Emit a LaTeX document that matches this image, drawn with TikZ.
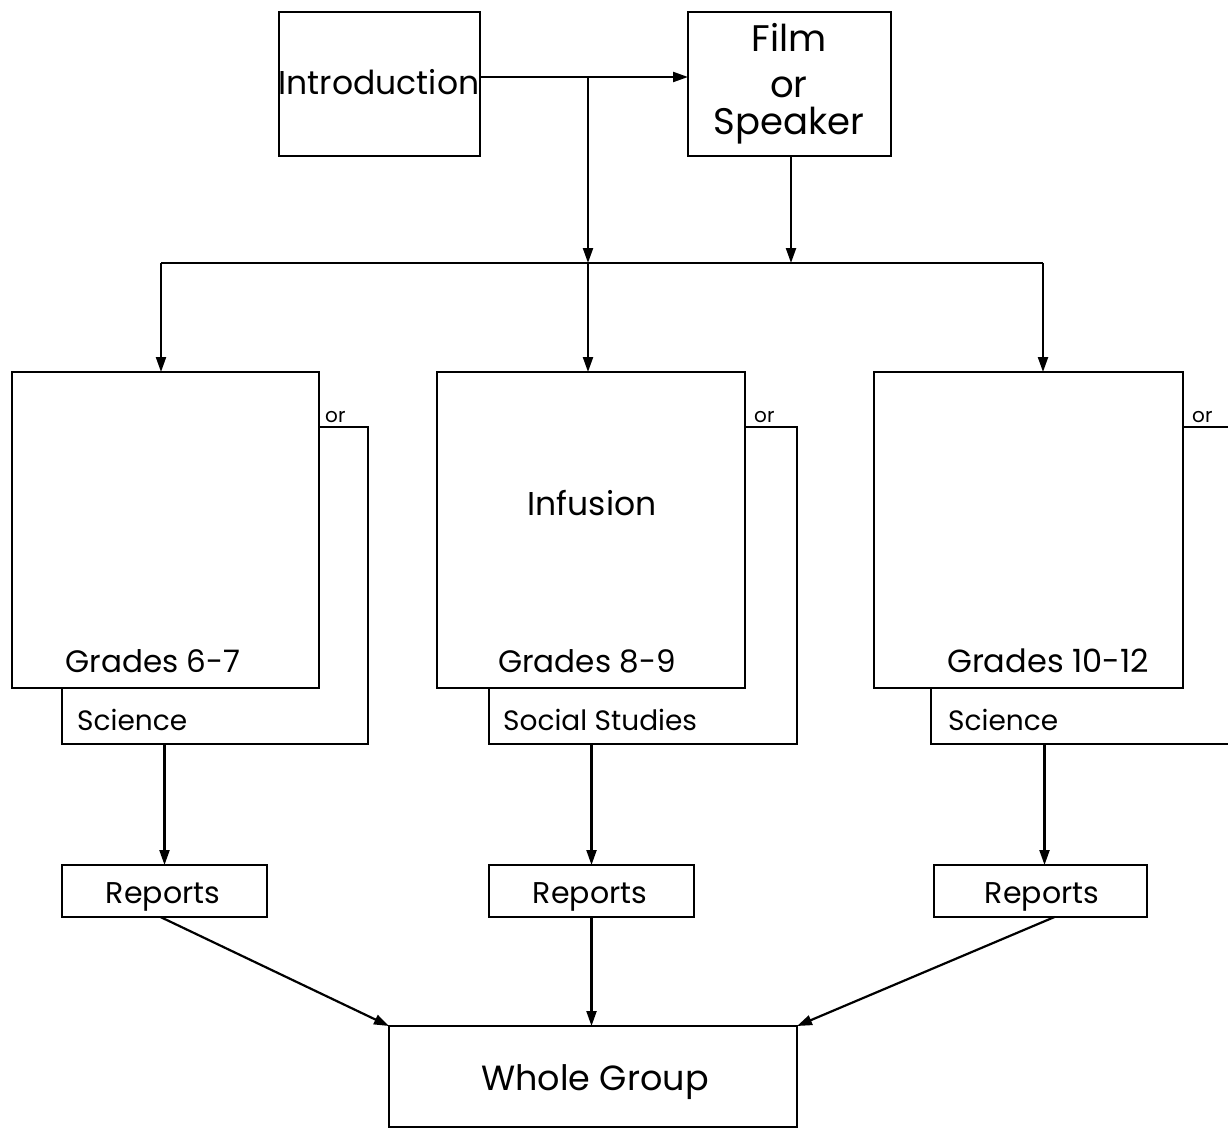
\documentclass[tikz,border=0pt]{standalone}
\usepackage{fontspec}
\setmainfont{Poppins}
\usetikzlibrary{arrows.meta}
\newcommand{\fsz}[1]{\fontsize{#1}{#1}\selectfont}
\begin{document}
\begin{tikzpicture}[x=1pt,y=-1pt,
  box/.style={draw, line width=2.2pt, inner sep=0pt, outer sep=0pt, fill=white, anchor=north west},
  ln/.style={line width=2.2pt},
  arr/.style={line width=2.2pt, -{Triangle[length=15pt,width=10pt]}},
  txt/.style={inner sep=0pt, anchor=base},
  ltxt/.style={inner sep=0pt, anchor=base west}]
\useasboundingbox (0,0) rectangle (1228,1129);
\clip (0,0) rectangle (1228,1129);
% top boxes
\node[box, minimum width=201pt, minimum height=144pt] (intro) at (279,12) {};
\node[box, minimum width=203pt, minimum height=144pt] (film) at (688,12) {};
\node[txt, font=\fsz{33}] (tintro) at (379,95) {Introduction};
\node[txt, font=\fsz{37}] (tfilm) at (789,52) {Film};
\node[txt, font=\fsz{37}] (tor) at (789,98) {or};
\node[txt, font=\fsz{37}] (tspk) at (789,135) {Speaker};
% back boxes
\node[box, minimum width=306pt, minimum height=317pt] (bL) at (62,427) {};
\node[box, minimum width=308pt, minimum height=317pt] (bM) at (489,427) {};
\node[box, minimum width=320pt, minimum height=317pt] (bR) at (931,427) {};
% front boxes
\node[box, minimum width=307pt, minimum height=316pt] (gL) at (12,372) {};
\node[box, minimum width=308pt, minimum height=316pt] (gM) at (437,372) {};
\node[box, minimum width=309pt, minimum height=316pt] (gR) at (874,372) {};
% texts in grade boxes
\node[txt, font=\fsz{31}] (tgL) at (153,672) {Grades 6-7};
\node[txt, font=\fsz{31}] (tgM) at (587,672) {Grades 8-9};
\node[txt, font=\fsz{32}] (tgR) at (1048,672) {Grades 10-12};
\node[txt, font=\fsz{33}] (tinf) at (592,515) {Infusion};
\node[ltxt, font=\fsz{28}] (tsL) at (77,730) {Science};
\node[ltxt, font=\fsz{28}] (tsM) at (503,730) {Social Studies};
\node[ltxt, font=\fsz{28}] (tsR) at (948,730) {Science};
\node[ltxt, font=\fsz{20}] (oL) at (325,422) {or};
\node[ltxt, font=\fsz{20}] (oM) at (754,422) {or};
\node[ltxt, font=\fsz{20}] (oR) at (1192,422) {or};
% reports
\node[box, minimum width=205pt, minimum height=52pt] (rL) at (62,865) {};
\node[box, minimum width=205pt, minimum height=52pt] (rM) at (489,865) {};
\node[box, minimum width=213pt, minimum height=52pt] (rR) at (934,865) {};
\node[txt, font=\fsz{30}] (trL) at (163,903) {Reports};
\node[txt, font=\fsz{30}] (trM) at (590,903) {Reports};
\node[txt, font=\fsz{30}] (trR) at (1042,903) {Reports};
% whole group
\node[box, minimum width=408pt, minimum height=101pt] (whole) at (389,1026) {};
\node[txt, font=\fsz{35}] (twhole) at (595,1090) {Whole Group};
% connectors
\coordinate (j) at (588,77);
\coordinate (busL) at (161,263);
\coordinate (busM) at (588,263);
\coordinate (busF) at (791,263);
\coordinate (busR) at (1043,263);
\draw[arr] ([yshift=7pt]intro.east) -- ([yshift=7pt]film.west);
\draw[ln] (busL) -- (busR);
\draw[arr] (j) -- (busM);
\draw[arr] (busF |- film.south) -- (busF);
\draw[arr] (busL) -- (busL |- gL.north);
\draw[arr] (busM) -- (busM |- gM.north);
\draw[arr] (busR) -- (busR |- gR.north);
\draw[arr] (rL.north |- bL.south) -- (rL.north);
\draw[arr] (rM.north |- bM.south) -- (rM.north);
\draw[arr] ([xshift=4pt]rR.north |- bR.south) -- ([xshift=4pt]rR.north);
\draw[arr] ([xshift=-4pt]rL.south) -- (whole.north west);
\draw[arr] (rM.south) -- (rM.south |- whole.north);
\draw[arr] ([xshift=14pt]rR.south) -- (whole.north east);
\end{tikzpicture}
\end{document}
